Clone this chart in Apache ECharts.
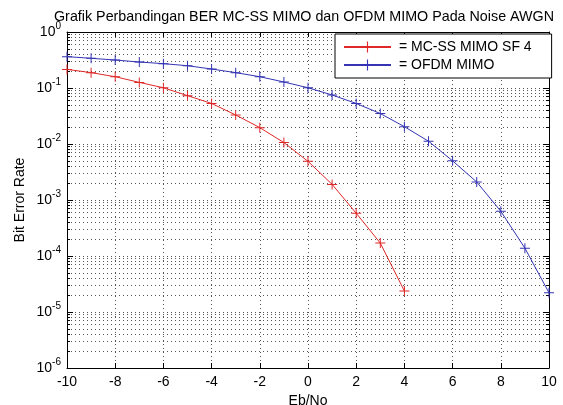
<!DOCTYPE html>
<html><head><meta charset="utf-8">
<script src="https://cdn.jsdelivr.net/npm/echarts@6/dist/echarts.min.js"></script>
<style>html,body{margin:0;padding:0;background:#fff}#c{width:563px;height:405px}</style>
</head><body><div id="c"></div>
<script>
const titleText = 'Grafik Perbandingan BER MC-SS MIMO dan OFDM MIMO Pada Noise AWGN';
const xName = 'Eb/No';
const yName = 'Bit Error Rate';
const mcssName = '= MC-SS MIMO SF 4';
const ofdmName = '= OFDM MIMO';
const mcssX = [-10,-9,-8,-7,-6,-5,-4,-3,-2,-1,0,1,2,3,4];
const mcssBer = [0.215,0.188,0.159,0.126,0.101,0.073,0.053,0.033,0.0196,0.0106,0.0049,0.0019,0.00058,0.00017,0.0000237];
const ofdmX = [-10,-9,-8,-7,-6,-5,-4,-3,-2,-1,0,1,2,3,4,5,6,7,8,9,10];
const ofdmBer = [0.363,0.339,0.316,0.291,0.272,0.25,0.218,0.188,0.159,0.128,0.101,0.075,0.053,0.035,0.0204,0.0112,0.005,0.0021,0.00063,0.000138,0.000022];
const xTicks = [-10,-8,-6,-4,-2,0,2,4,6,8,10];
const yDecadeExp = [-6,-5,-4,-3,-2,-1,0];

// grid-line positions (log10 of 1..9 x each decade) for the decoration axis
const minorPos = [];
for (let i = 0; i < yDecadeExp.length - 1; i++) {
  for (let k = 1; k <= 9; k++) minorPos.push(yDecadeExp[i] + Math.log10(k));
}
minorPos.push(yDecadeExp[yDecadeExp.length - 1]);

const plusPath = 'path://M4.5,0H5.5V4.5H10V5.5H5.5V10H4.5V5.5H0V4.5H4.5Z';
const red = '#e02828', blue = '#3434b4';
const font = 'Liberation Sans, Arial, sans-serif';
const dotted = {show: true, lineStyle: {color: '#555', width: 1, type: [1, 3]}};
const blackLine = {show: true, onZero: false, lineStyle: {color: '#000', width: 1}};

const chart = echarts.init(document.getElementById('c'), null, {renderer: 'canvas'});
chart.setOption({
  animation: false,
  backgroundColor: '#fff',
  textStyle: {fontFamily: font},
  title: {text: titleText, left: 49, top: 5, textStyle: {fontSize: 14.3, fontWeight: 'normal', color: '#000', fontFamily: font}},
  legend: {
    orient: 'vertical', left: 335, top: 34, itemWidth: 47, itemHeight: 14, itemGap: 4,
    padding: [6, 20, 6, 8], borderColor: '#000', borderWidth: 1, backgroundColor: '#fff',
    textStyle: {fontSize: 14, color: '#000', fontFamily: font, padding: [0,0,0,3]},
    data: [mcssName, ofdmName]
  },
  grid: {left: 67, right: 14, top: 32, bottom: 37, containLabel: false, outerBoundsMode: 'none'},
  xAxis: [
    {type: 'value', min: -10, max: 10, interval: 2, position: 'bottom',
     name: xName, nameLocation: 'middle', nameGap: 26, nameMoveOverlap: false, nameTextStyle: {fontSize: 14, color: '#000'},
     axisLine: blackLine,
     axisTick: {inside: true, length: 5, lineStyle: {color: '#000'}},
     axisLabel: {fontSize: 14, color: '#000', margin: 7},
     splitLine: dotted},
    {type: 'value', min: -10, max: 10, interval: 2, position: 'top',
     axisLine: blackLine,
     axisTick: {inside: true, length: 5, lineStyle: {color: '#000'}},
     axisLabel: {show: false}, splitLine: {show: false}}
  ],
  yAxis: [
    {type: 'log', logBase: 10, min: 1e-6, max: 1, position: 'left',
     name: yName, nameLocation: 'middle', nameGap: 40, nameMoveOverlap: false, nameRotate: 90, nameTextStyle: {fontSize: 14, color: '#000'},
     axisLine: blackLine,
     axisTick: {show: true, inside: true, length: 6, lineStyle: {color: '#000'}},
     axisLabel: {margin: 6, formatter: v => '{b|10}{s|' + Math.round(Math.log10(v)) + '}',
       rich: {b: {fontSize: 14, color: '#000', fontFamily: font}, s: {fontSize: 10, color: '#000', fontFamily: font, padding: [0,0,12,0]}}},
     splitLine: {show: false}},
    {type: 'log', logBase: 10, min: 1e-6, max: 1, position: 'right',
     axisLine: blackLine,
     axisTick: {show: true, inside: true, length: 6, lineStyle: {color: '#000'}},
     axisLabel: {show: false}, splitLine: {show: false}},
    {type: 'value', min: -6, max: 0, position: 'left',
     axisLine: {show: false, onZero: false}, axisLabel: {show: false},
     axisTick: {show: true, inside: true, length: 3, customValues: minorPos, lineStyle: {color: '#000'}},
     splitLine: dotted},
    {type: 'value', min: -6, max: 0, position: 'right',
     axisLine: {show: false, onZero: false}, axisLabel: {show: false},
     axisTick: {show: true, inside: true, length: 3, customValues: minorPos, lineStyle: {color: '#000'}},
     splitLine: {show: false}}
  ],
  series: [
    {name: mcssName, type: 'line', xAxisIndex: 0, yAxisIndex: 0,
     data: mcssX.map((x, i) => [x, mcssBer[i]]),
     symbol: plusPath, symbolSize: 10, showAllSymbol: true,
     lineStyle: {color: red, width: 1}, itemStyle: {color: red}, z: 5},
    {name: ofdmName, type: 'line', xAxisIndex: 0, yAxisIndex: 0,
     data: ofdmX.map((x, i) => [x, ofdmBer[i]]),
     symbol: plusPath, symbolSize: 10, showAllSymbol: true,
     lineStyle: {color: blue, width: 1}, itemStyle: {color: blue}, z: 5}
  ]
});
</script></body></html>
